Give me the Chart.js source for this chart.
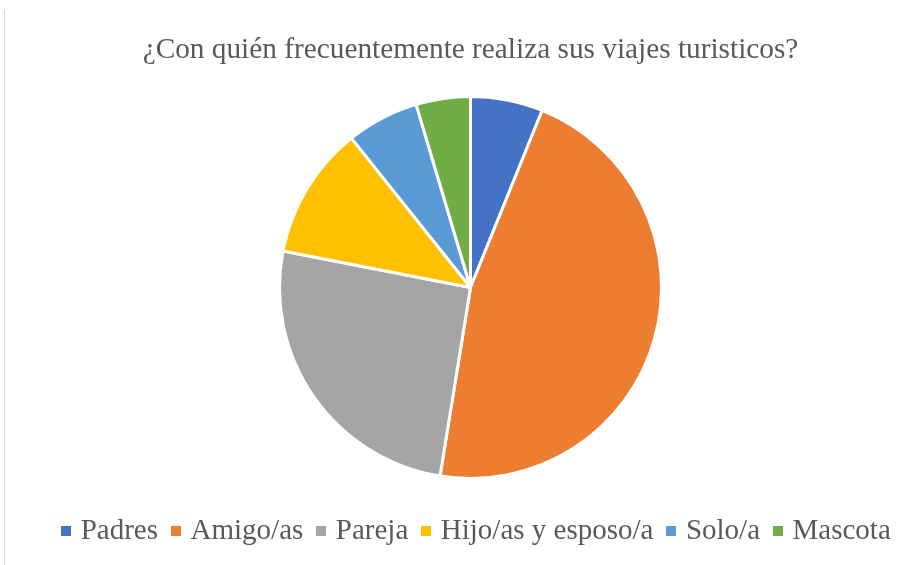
<!DOCTYPE html>
<html>
<head>
<meta charset="utf-8">
<script src="https://cdn.jsdelivr.net/npm/chart.js@4.4.0/dist/chart.umd.min.js"></script>
<style>
  body { margin: 0; background: #fff; }
  #wrap { position: relative; width: 923px; height: 565px; }
  #edge { position: absolute; left: 4px; top: 10px; width: 1px; height: 555px; background: #d9d9d9; }
</style>
</head>
<body>
<div id="wrap">
  <canvas id="pie" width="923" height="565"></canvas>
  <div id="edge"></div>
</div>
<script>
const CATEGORIES = ["Padres", "Amigo/as", "Pareja", "Hijo/as y esposo/a", "Solo/a", "Mascota"]
const COUNTS = [12, 91, 50, 22, 12, 9]
const COLORS = ["#4472C4", "#ED7D31", "#A5A5A5", "#FFC000", "#5B9BD5", "#70AD47"]
const TITLE = "¿Con quién frecuentemente realiza sus viajes turisticos?"
const SERIF = "'Liberation Serif', 'Times New Roman', serif"

// small square swatch used as legend marker (keeps the marker close to its text)
const swatch = (color)=>{
  const c = document.createElement('canvas')
  c.width = 10
  c.height = 10
  const g = c.getContext('2d')
  g.fillStyle = color
  g.fillRect(0, 0, 10, 10)
  return c
}

const shiftLegend = {
  id: 'shiftLegend',
  afterLayout(chart) {
    chart.legend.left += 8
    chart.legend.right += 8
  }
}

const ctx = document.getElementById("pie").getContext("2d")
new Chart(ctx, {
  type: 'pie',
  data: {
    labels: CATEGORIES,
    datasets: [{
      data: COUNTS,
      backgroundColor: COLORS,
      borderColor: '#ffffff',
      borderWidth: 3
    }]
  },
  options: {
    responsive: false,
    animation: false,
    radius: 191,
    layout: { padding: { top: 0, bottom: 9.5, left: 18, right: 0 } },
    plugins: {
      title: {
        display: true,
        text: TITLE,
        color: '#595959',
        font: { family: SERIF, size: 29.3, weight: 'normal' },
        padding: { top: 32.4, bottom: 8.9 }
      },
      legend: {
        position: 'bottom',
        labels: {
          color: '#595959',
          usePointStyle: true,
          pointStyleWidth: 0.01,
          boxHeight: 10,
          padding: 18,
          font: { family: SERIF, size: 29 },
          generateLabels: (chart)=>CATEGORIES.map((label, i)=>({
            text: label,
            fillStyle: COLORS[i],
            strokeStyle: COLORS[i],
            lineWidth: 0,
            fontColor: '#595959',
            pointStyle: swatch(COLORS[i]),
            hidden: false,
            index: i
          }))
        }
      },
      tooltip: { enabled: false }
    }
  },
  plugins: [shiftLegend]
})
</script>
</body>
</html>
